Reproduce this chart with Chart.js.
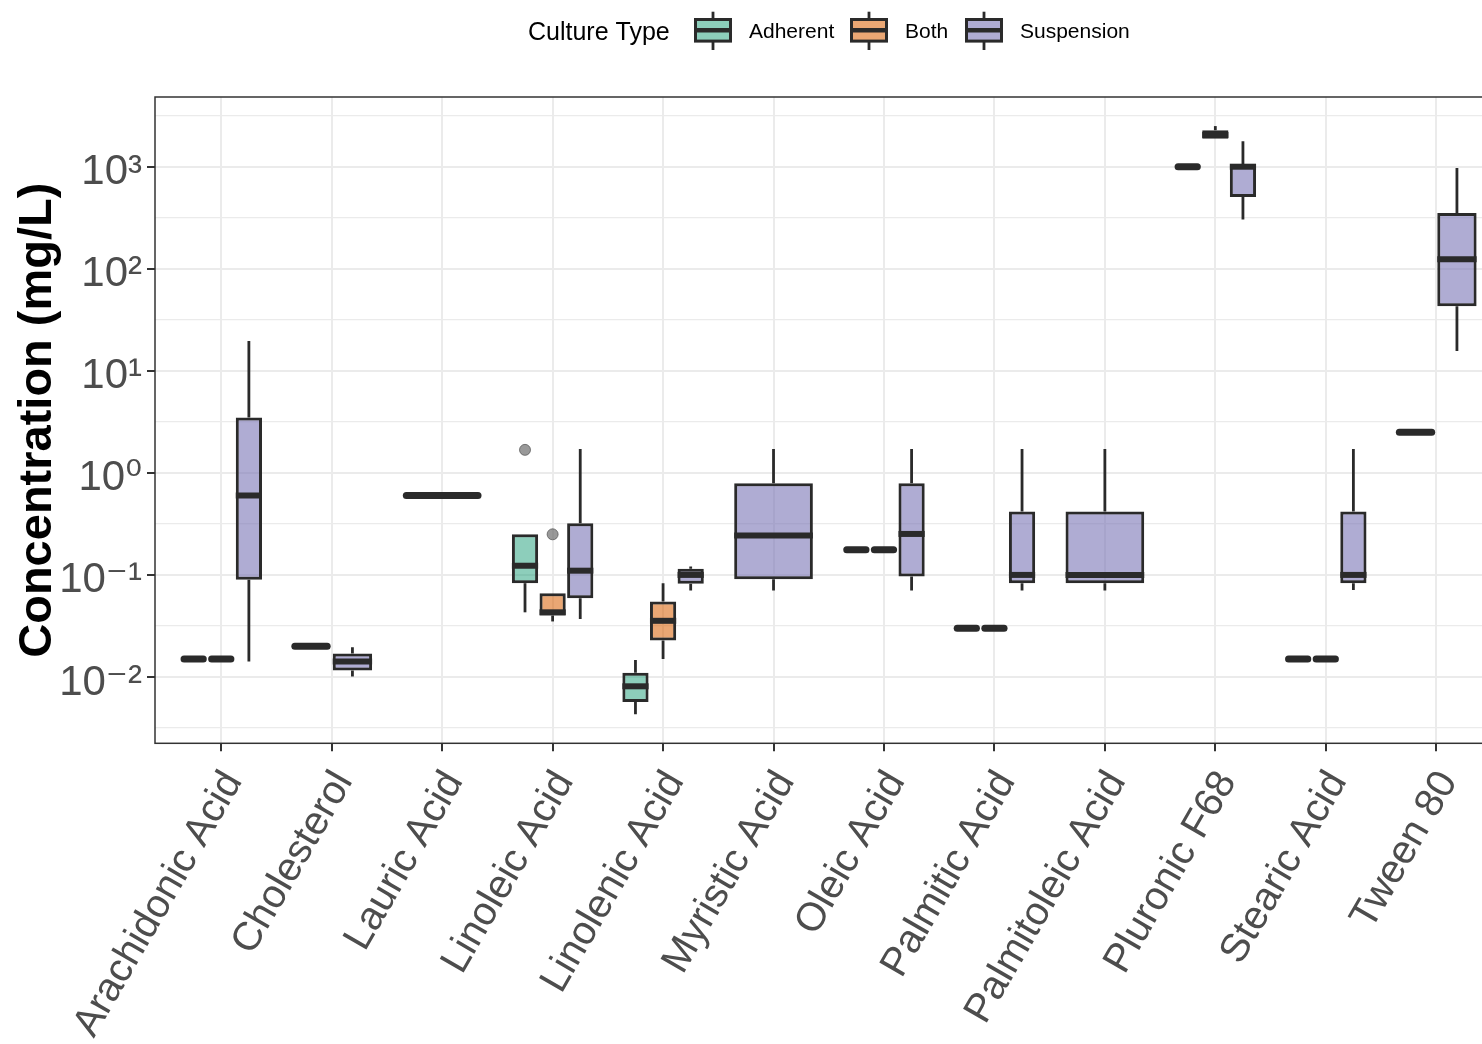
<!DOCTYPE html>
<html>
<head>
<meta charset="utf-8">
<script src="https://cdn.jsdelivr.net/npm/chart.js@4.4.1/dist/chart.umd.min.js"></script>
<style>
  html, body { margin: 0; padding: 0; overflow: hidden; background: #fff; }
  #wrap { width: 1510px; height: 1044px; position: relative; }
</style>
</head>
<body>
<div id="wrap"><canvas id="myChart"></canvas></div>
<script>
const categories = ["Arachidonic Acid", "Cholesterol", "Lauric Acid", "Linoleic Acid", "Linolenic Acid",
  "Myristic Acid", "Oleic Acid", "Palmitic Acid", "Palmitoleic Acid", "Pluronic F68", "Stearic Acid", "Tween 80"];

// box stats per culture type: whisker low, lower hinge, median, upper hinge, whisker high
const adherentLow    = [0.015, 0.02, 0.6, 0.043, 0.0043, null, 0.176, 0.03, null, 1000, 0.015, 2.5];
const adherentQ1     = [0.015, 0.02, 0.6, 0.083, 0.0057, null, 0.176, 0.03, null, 1000, 0.015, 2.5];
const adherentMedian = [0.015, 0.02, 0.6, 0.123, 0.0081, null, 0.176, 0.03, null, 1000, 0.015, 2.5];
const adherentQ3     = [0.015, 0.02, 0.6, 0.25, 0.011, null, 0.176, 0.03, null, 1000, 0.015, 2.5];
const adherentHigh   = [0.015, 0.02, 0.6, 0.25, 0.0147, null, 0.176, 0.03, null, 1000, 0.015, 2.5];
const adherentOutliers = [[], [], [], [1.68], [], [], [], [], [], [], [], []];

const bothLow    = [0.015, null, null, 0.035, 0.015, null, 0.176, 0.03, null, 1880, 0.015, null];
const bothQ1     = [0.015, null, null, 0.04, 0.0228, null, 0.176, 0.03, null, 1880, 0.015, null];
const bothMedian = [0.015, null, null, 0.043, 0.0355, null, 0.176, 0.03, null, 2050, 0.015, null];
const bothQ3     = [0.015, null, null, 0.066, 0.055, null, 0.176, 0.03, null, 2280, 0.015, null];
const bothHigh   = [0.015, null, null, 0.066, 0.083, null, 0.176, 0.03, null, 2500, 0.015, null];
const bothOutliers = [[], [], [], [0.25], [], [], [], [], [], [], [], []];

const suspensionLow    = [0.0142, 0.0101, null, 0.0369, 0.0703, 0.0703, 0.0703, 0.0703, 0.0703, 303, 0.071, 15.6];
const suspensionQ1     = [0.0895, 0.0116, null, 0.059, 0.082, 0.0908, 0.0964, 0.083, 0.083, 506, 0.083, 43];
const suspensionMedian = [0.6, 0.0142, null, 0.11, 0.1, 0.243, 0.252, 0.1, 0.1, 1000, 0.1, 124];
const suspensionQ3     = [3.48, 0.017, null, 0.321, 0.115, 0.793, 0.793, 0.418, 0.418, 1050, 0.418, 352];
const suspensionHigh   = [19.6, 0.0195, null, 1.71, 0.121, 1.71, 1.71, 1.71, 1.71, 1780, 1.71, 973];
const suspensionOutliers = [[], [], [], [], [], [], [], [], [], [], [], []];

const yExponents = [-2, -1, 0, 1, 2, 3];
const yMinorExponents = [-2.5, -1.5, -0.5, 0.5, 1.5, 2.5, 3.5];

const groups = [
  { label: "Adherent", color: "rgba(27,158,119,0.5)", low: adherentLow, q1: adherentQ1, median: adherentMedian, q3: adherentQ3, high: adherentHigh, outliers: adherentOutliers },
  { label: "Both", color: "rgba(217,95,2,0.55)", low: bothLow, q1: bothQ1, median: bothMedian, q3: bothQ3, high: bothHigh, outliers: bothOutliers },
  { label: "Suspension", color: "rgba(117,112,179,0.58)", low: suspensionLow, q1: suspensionQ1, median: suspensionMedian, q3: suspensionQ3, high: suspensionHigh, outliers: suspensionOutliers },
];

const FONT = '"Liberation Sans", Arial, "DejaVu Sans", sans-serif';
const LINE = "#2a2a2a";
const SUP = { "-": "\u207B", "0": "\u2070", "1": "\u00B9", "2": "\u00B2", "3": "\u00B3" };

const datasets = groups.map((g) => ({
  label: g.label,
  data: categories.map((c, i) => ({ x: i, y: g.q1[i] == null ? null : [g.q1[i], g.q3[i]] })),
  backgroundColor: g.color,
  borderColor: LINE,
  borderWidth: 3,
  borderSkipped: false,
}));

// whiskers, medians and outliers on top of the floating bars
const boxPlugin = {
  id: "boxes",
  afterDatasetsDraw(chart) {
    const ctx = chart.ctx;
    const yScale = chart.scales.y;
    ctx.save();
    ctx.strokeStyle = LINE;
    groups.forEach((g, d) => {
      const meta = chart.getDatasetMeta(d);
      meta.data.forEach((el, i) => {
        if (g.median[i] == null) return;
        const { x, width } = el.getProps(["x", "width"], true);
        const yLow = yScale.getPixelForValue(g.low[i]);
        const yQ1 = yScale.getPixelForValue(g.q1[i]);
        const yMed = yScale.getPixelForValue(g.median[i]);
        const yQ3 = yScale.getPixelForValue(g.q3[i]);
        const yHigh = yScale.getPixelForValue(g.high[i]);
        ctx.lineWidth = 2.8;
        ctx.lineCap = "butt";
        ctx.beginPath();
        ctx.moveTo(x, yQ3); ctx.lineTo(x, yHigh);
        ctx.moveTo(x, yQ1); ctx.lineTo(x, yLow);
        ctx.stroke();
        ctx.beginPath();
        if (g.q1[i] === g.q3[i]) {
          ctx.lineWidth = 7;
          ctx.lineCap = "round";
          ctx.moveTo(x - width / 2 + 3.5, yMed);
          ctx.lineTo(x + width / 2 - 3.5, yMed);
        } else {
          ctx.lineWidth = 6;
          ctx.moveTo(x - width / 2, yMed);
          ctx.lineTo(x + width / 2, yMed);
        }
        ctx.stroke();
        g.outliers[i].forEach((v) => {
          ctx.beginPath();
          ctx.arc(x, yScale.getPixelForValue(v), 5.5, 0, Math.PI * 2);
          ctx.fillStyle = "rgba(110,110,110,0.7)";
          ctx.fill();
          ctx.lineWidth = 1;
          ctx.strokeStyle = "rgba(80,80,80,0.7)";
          ctx.stroke();
          ctx.strokeStyle = LINE;
        });
      });
    });
    ctx.restore();
  },
  afterDraw(chart) {
    const ctx = chart.ctx;
    const a = chart.chartArea;
    ctx.save();
    ctx.strokeStyle = "#333333";
    ctx.lineWidth = 1.5;
    ctx.strokeRect(a.left, a.top, a.right - a.left, a.bottom - a.top);

    // legend
    ctx.fillStyle = "#000";
    ctx.textBaseline = "middle";
    ctx.textAlign = "left";
    ctx.font = "25px " + FONT;
    ctx.fillText("Culture Type", 528, 33.5);
    const keyX = [694, 850, 965];
    ctx.font = "21px " + FONT;
    groups.forEach((g, k) => {
      const kx = keyX[k];
      const cx = kx + 19;
      ctx.strokeStyle = LINE;
      ctx.lineWidth = 2.8;
      ctx.beginPath();
      ctx.moveTo(cx, 11.7); ctx.lineTo(cx, 50);
      ctx.stroke();
      ctx.fillStyle = "#fff";
      ctx.fillRect(kx + 1.5, 19.5, 35, 21.6);
      ctx.fillStyle = g.color;
      ctx.fillRect(kx + 1.5, 19.5, 35, 21.6);
      ctx.lineWidth = 3;
      ctx.strokeRect(kx + 1.5, 19.5, 35, 21.6);
      ctx.lineWidth = 4.5;
      ctx.beginPath();
      ctx.moveTo(kx + 1.5, 30.3); ctx.lineTo(kx + 36.5, 30.3);
      ctx.stroke();
      ctx.fillStyle = "#000";
      ctx.fillText(g.label, kx + 55, 32);
    });
    ctx.restore();
  },
};

const isMajor = (v) => Math.abs(Math.log10(v) - Math.round(Math.log10(v))) < 1e-6;

const config = {
  type: "bar",
  data: { datasets: datasets },
  plugins: [boxPlugin],
  options: {
    responsive: true,
    maintainAspectRatio: false,
    animation: false,
    layout: { padding: { top: 97, right: 7.5, left: 0, bottom: 0 } },
    categoryPercentage: 0.75,
    barPercentage: 0.95,
    skipNull: true,
    scales: {
      x: {
        type: "linear",
        min: -0.6,
        max: 11.6,
        offset: false,
        afterBuildTicks: (scale) => { scale.ticks = categories.map((c, i) => ({ value: i })); },
        afterFit: (scale) => { scale.height = 300.7; },
        border: { display: false },
        grid: { offset: false, color: "#EBEBEB", lineWidth: 2, tickLength: 8, tickColor: "#333333", tickWidth: 2 },
        ticks: {
          autoSkip: false,
          minRotation: 60,
          maxRotation: 60,
          padding: 12,
          labelOffset: 12,
          color: "#4D4D4D",
          font: { family: FONT, size: 40 },
          callback: (v) => categories[v],
        },
      },
      y: {
        type: "logarithmic",
        min: Math.pow(10, -2.65),
        max: Math.pow(10, 3.683),
        afterBuildTicks: (scale) => {
          const all = yExponents.concat(yMinorExponents).sort((p, q) => p - q);
          scale.ticks = all.map((e) => ({ value: Math.pow(10, e) }));
        },
        afterFit: (scale) => { scale.width = 155; },
        border: { display: false },
        grid: {
          color: "#EBEBEB",
          lineWidth: (c) => (c.tick && isMajor(c.tick.value) ? 2 : 1.2),
          tickLength: 8,
          tickWidth: 2,
          tickColor: (c) => (c.tick && isMajor(c.tick.value) ? "#333333" : "rgba(0,0,0,0)"),
        },
        ticks: {
          autoSkip: false,
          padding: 5,
          labelOffset: 6,
          color: "#4D4D4D",
          font: { family: FONT, size: 42 },
          callback: (v) => {
            if (!isMajor(v)) return "";
            const e = String(Math.round(Math.log10(v)));
            return "10" + e.split("").map((ch) => SUP[ch]).join("");
          },
        },
        title: {
          display: true,
          text: "Concentration (mg/L)",
          color: "#000",
          font: { family: FONT, size: 47, weight: "bold" },
          padding: { top: 10, bottom: 0 },
        },
      },
    },
    plugins: {
      legend: { display: false },
      tooltip: { enabled: false },
    },
  },
};

const myChart = new Chart(document.getElementById("myChart"), config);
</script>
</body>
</html>
